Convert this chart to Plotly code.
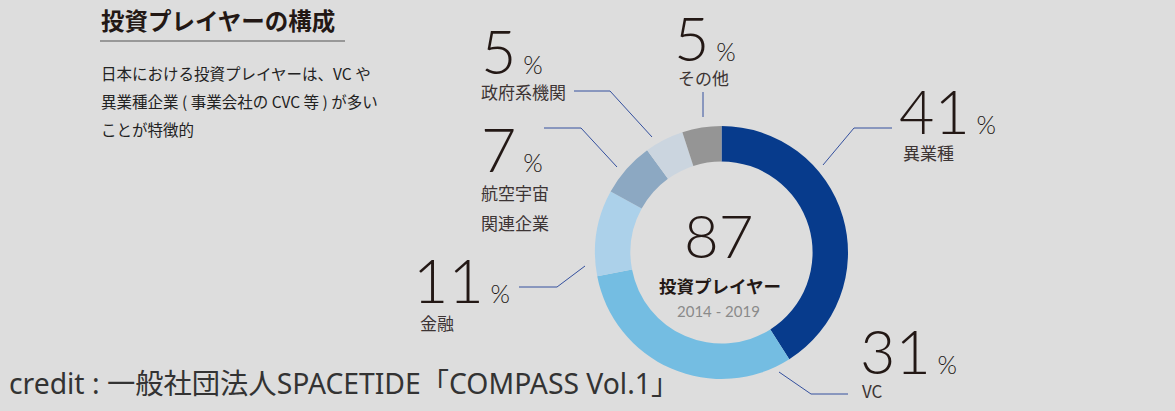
import plotly.graph_objects as go

W, H = 1175, 411

# data
labels = ["異業種", "VC", "金融", "航空宇宙<br>関連企業", "政府系機関", "その他"]
values = [41, 31, 11, 7, 5, 5]
colors = ["#073b8c", "#74bde2", "#acd1ea", "#8ca8c2", "#cbd5df", "#959595"]
total_players = 87
period = "2014 - 2019"

NUM_FONT = "Lato"
JP_FONT = "Noto Sans CJK JP"
INK = "#231815"
LINE = "#34509e"
BG = "#dddddd"


def px(x):
    return x / W


def py(y):
    return 1 - y / H


fig = go.Figure()

fig.add_trace(go.Pie(
    labels=labels, values=values, sort=False, direction="clockwise",
    rotation=0, hole=0.72, textinfo="none", showlegend=False,
    marker=dict(colors=colors, line=dict(width=0)),
    domain=dict(x=[px(595), px(848)], y=[py(379), py(126)]),
))

ann = []


def text(x, y, s, size, color=INK, family=JP_FONT, weight=400, xanchor="left", h=None):
    ann.append(dict(x=px(x), y=py(y), xref="paper", yref="paper", text=s,
                    showarrow=False, xanchor=xanchor, yanchor="middle", height=h,
                    font=dict(family=family, size=size, color=color, weight=weight)))


# label layout: (number x, number y, name x, name y)
spots = [
    (897, 110, 901, 152),
    (858, 350, 860, 390),
    (411, 279, 418, 322),
    (479, 148, 479, 207),
    (479, 50, 479, 92),
    (672, 37, 676, 77),
]
for v, lab, (nx, ny, lx, ly) in zip(values, labels, spots):
    text(nx, ny, f"{v}<span style='font-size:25px'> %</span>", 61,
         family=NUM_FONT, weight=300, h=54)
    if "<br>" in lab:
        a, b = lab.split("<br>")
        text(lx, 192, a, 17, color="#3c3434")
        text(lx, 222, b, 17, color="#3c3434")
    else:
        text(lx, ly, lab, 17, color="#3c3434")

# centre of the donut
text(719, 235, str(total_players), 60, family=NUM_FONT, weight=300, xanchor="center")
text(720, 285, "投資プレイヤー", 17.5, weight=700, xanchor="center")
text(718, 311, period, 15, color="#8a8a8a", family=NUM_FONT, xanchor="center")

# heading block
text(99, 20, "投資プレイヤーの構成", 23.5, weight=700)
text(99, 73, "日本における投資プレイヤーは、VC や", 15.5, color="#222222")
text(99, 101, "異業種企業 ( 事業会社の CVC 等 ) が多い", 15.5, color="#222222")
text(99, 129, "ことが特徴的", 15.5, color="#222222")
text(7, 383, "credit : 一般社団法人SPACETIDE「COMPASS Vol.1」", 28.3, color="#333333",
     family="Noto Sans, Noto Sans CJK JP")

# leader lines
leaders = [
    [(823, 165), (854, 128), (892, 128)],
    [(779, 372), (811, 394), (848, 394)],
    [(585, 266), (557, 287), (519, 287)],
    [(617, 167), (581, 128), (544, 128)],
    [(652, 137), (610, 91), (574, 91)],
    [(703, 117), (703, 92)],
]
shapes = []
for pts in leaders:
    path = "M " + " L ".join(f"{px(x)},{py(y)}" for x, y in pts)
    shapes.append(dict(type="path", path=path, xref="paper", yref="paper",
                       line=dict(color=LINE, width=1)))
shapes.append(dict(type="line", xref="paper", yref="paper", x0=px(100), x1=px(345),
                   y0=py(41), y1=py(41), line=dict(color="#555555", width=1.2)))

fig.update_layout(
    width=W, height=H, margin=dict(l=0, r=0, t=0, b=0),
    paper_bgcolor=BG, plot_bgcolor=BG,
    annotations=ann, shapes=shapes,
)

# drop the browser's default body margin so the figure sits at the page corner
fig.write_html("out.html", config={"displayModeBar": False},
               post_script=f"document.body.style.margin='0';document.body.style.background='{BG}';")
